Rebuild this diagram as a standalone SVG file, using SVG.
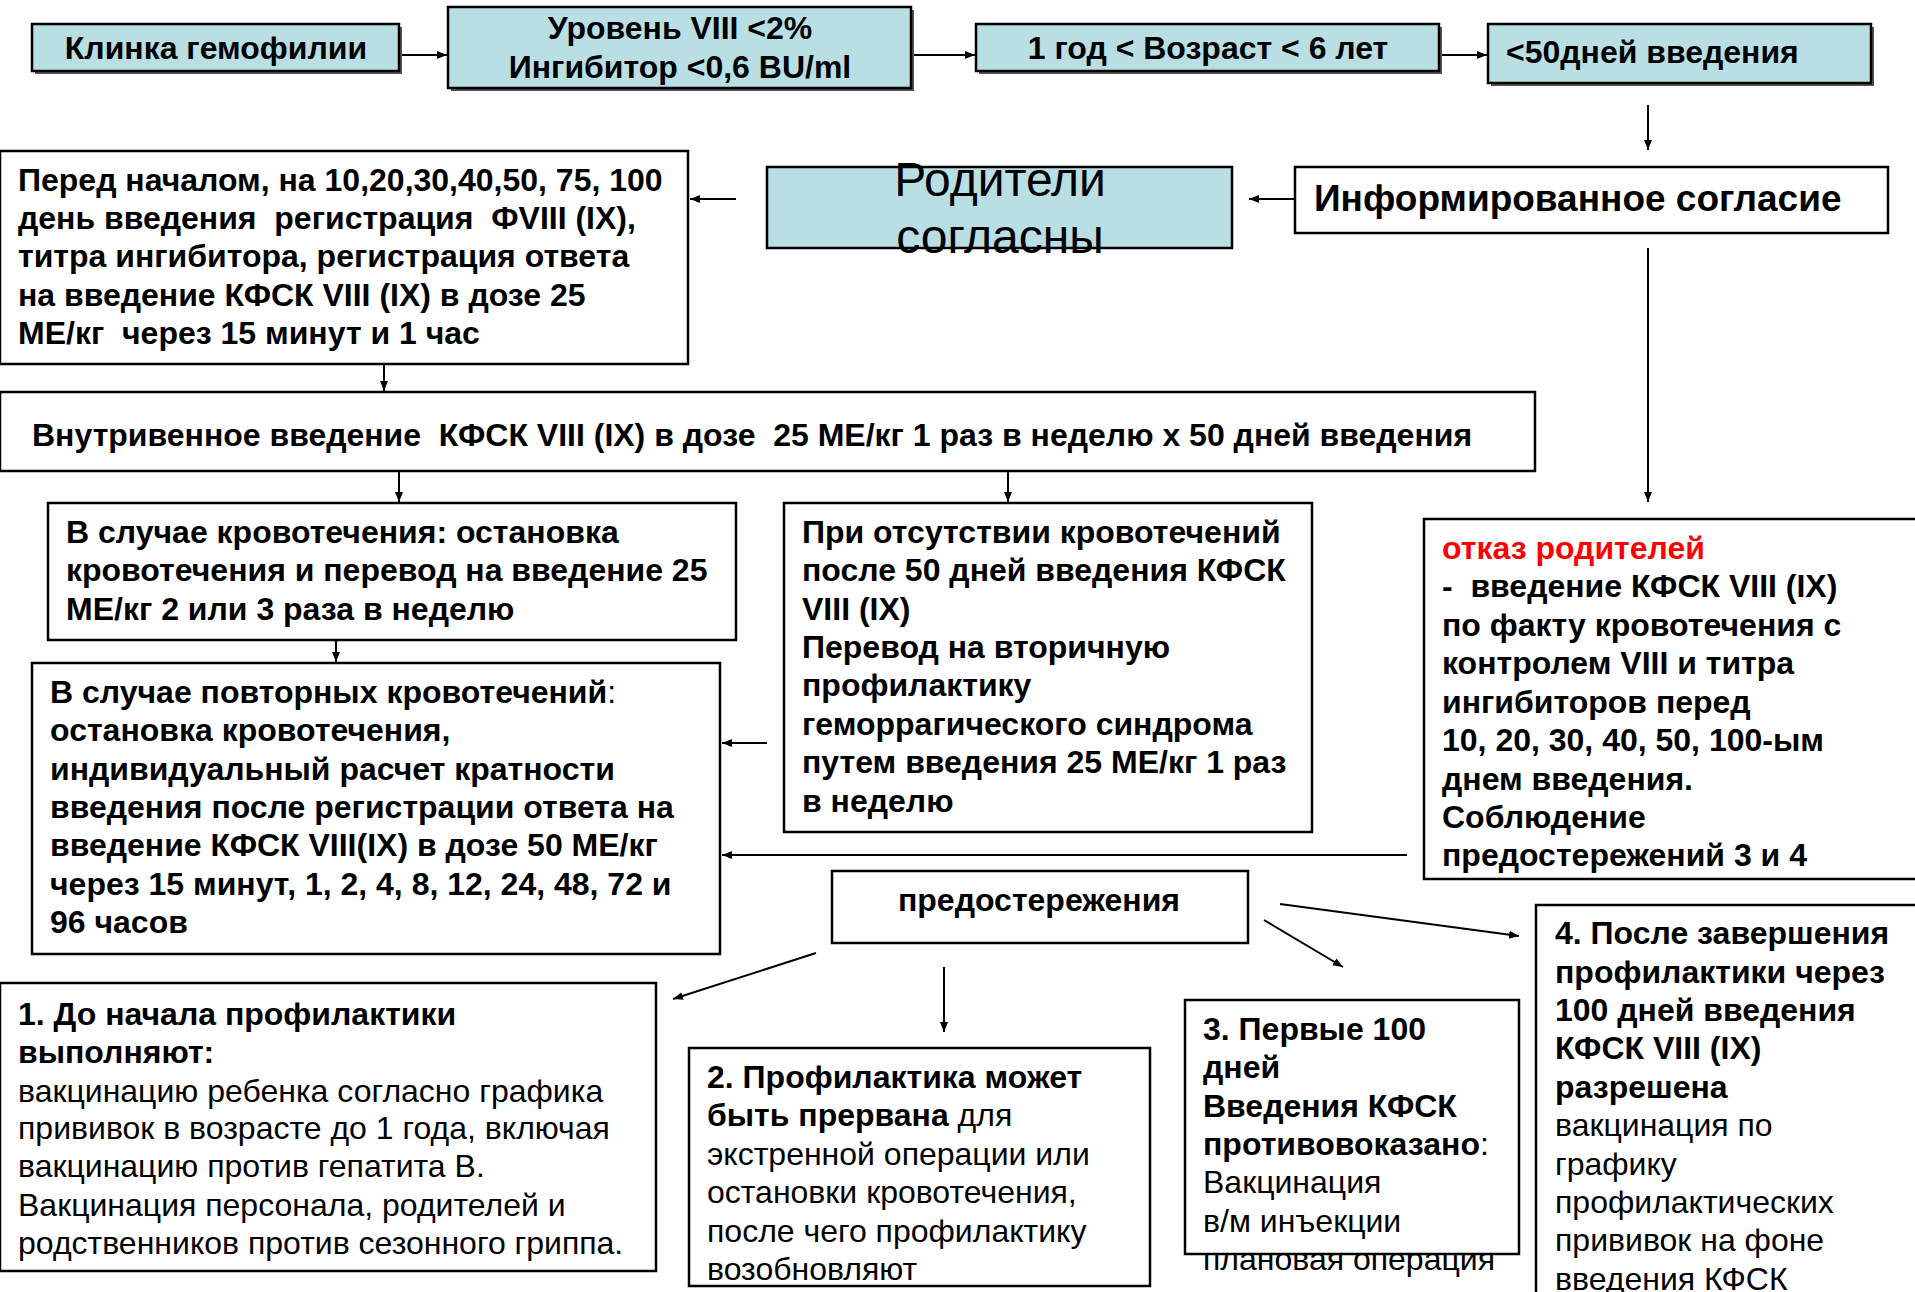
<svg xmlns="http://www.w3.org/2000/svg" width="1915" height="1292" viewBox="0 0 1915 1292">
<style>
.box{fill:#fff;stroke:#000;stroke-width:2.5}
.blue{fill:#b9dfe4;stroke:#000;stroke-width:2.5}
.shd{fill:#555}
.n{font-family:"Liberation Sans",Arial,sans-serif;font-size:32px;fill:#000;white-space:pre}
.b{font-weight:bold}
.w{font-family:"Liberation Sans",Arial,sans-serif;font-size:32px;font-weight:bold;fill:#000;white-space:pre}
.red{fill:#ff0000}
.c{text-anchor:middle}
.ln{stroke:#000;stroke-width:2;fill:none}
</style>
<defs>
<marker id="ah" viewBox="0 0 10 10" refX="10" refY="5" markerWidth="10" markerHeight="10" markerUnits="userSpaceOnUse" orient="auto">
<path d="M0,1 L10,5 L0,9 z" fill="#000"/>
</marker>
</defs>
<g id="connectors">
<line class="ln" x1="400" y1="55" x2="447" y2="55" marker-end="url(#ah)"/>
<line class="ln" x1="912" y1="55" x2="975" y2="55" marker-end="url(#ah)"/>
<line class="ln" x1="1440" y1="55" x2="1487" y2="55" marker-end="url(#ah)"/>
<line class="ln" x1="1648" y1="105" x2="1648" y2="150" marker-end="url(#ah)"/>
<line class="ln" x1="1295" y1="199" x2="1249" y2="199" marker-end="url(#ah)"/>
<line class="ln" x1="736" y1="199" x2="690" y2="199" marker-end="url(#ah)"/>
<line class="ln" x1="384" y1="365" x2="384" y2="391" marker-end="url(#ah)"/>
<line class="ln" x1="399" y1="472" x2="399" y2="502" marker-end="url(#ah)"/>
<line class="ln" x1="1008" y1="472" x2="1008" y2="502" marker-end="url(#ah)"/>
<line class="ln" x1="1648" y1="248" x2="1648" y2="502" marker-end="url(#ah)"/>
<line class="ln" x1="336" y1="641" x2="336" y2="662" marker-end="url(#ah)"/>
<line class="ln" x1="767" y1="743" x2="722" y2="743" marker-end="url(#ah)"/>
<line class="ln" x1="1407" y1="855" x2="722" y2="855" marker-end="url(#ah)"/>
<line class="ln" x1="816" y1="953" x2="673" y2="999" marker-end="url(#ah)"/>
<line class="ln" x1="944" y1="967" x2="944" y2="1032" marker-end="url(#ah)"/>
<line class="ln" x1="1264" y1="920" x2="1343" y2="967" marker-end="url(#ah)"/>
<line class="ln" x1="1280" y1="904" x2="1519" y2="936" marker-end="url(#ah)"/>
</g>
<g id="n1">
<rect class="shd" x="35" y="27" width="367" height="47"/>
<rect class="blue" x="32" y="24" width="367" height="47"/>
<text class="n b c" x="216" y="59">Клинка гемофилии</text>
</g>
<g id="n2">
<rect class="shd" x="451" y="10" width="463" height="81"/>
<rect class="blue" x="448" y="7" width="463" height="81"/>
<text class="n b c" x="680" y="39">Уровень VIII &lt;2%</text>
<text class="n b c" x="680" y="78">Ингибитор &lt;0,6 BU/ml</text>
</g>
<g id="n3">
<rect class="shd" x="979" y="27" width="463" height="47"/>
<rect class="blue" x="976" y="24" width="463" height="47"/>
<text class="n b c" x="1208" y="59">1 год &lt; Возраст &lt; 6 лет</text>
</g>
<g id="n4">
<rect class="shd" x="1491" y="27" width="383" height="59"/>
<rect class="blue" x="1488" y="24" width="383" height="59"/>
<text class="n b" x="1506" y="63">&lt;50дней введения</text>
</g>
<g id="n5">
<rect class="box" x="1295" y="167" width="593" height="66"/>
<text class="n b" x="1314" y="211" style="font-size:37px">Информированное согласие</text>
</g>
<g id="n6">
<rect class="blue" x="767" y="167" width="465" height="81"/>
<text class="n c" x="1000" y="196" style="font-size:48px">Родители</text>
<text class="n c" x="1000" y="253" style="font-size:48px">согласны</text>
</g>
<g id="n7">
<rect class="box" x="0" y="151" width="688" height="213"/>
<text class="n b" x="18" y="191">Перед началом, на 10,20,30,40,50, 75, 100</text>
<text class="n b" x="18" y="229">день введения  регистрация  ФVIII (IX),</text>
<text class="n b" x="18" y="267">титра ингибитора, регистрация ответа</text>
<text class="n b" x="18" y="306">на введение КФСК VIII (IX) в дозе 25</text>
<text class="n b" x="18" y="344">МЕ/кг  через 15 минут и 1 час</text>
</g>
<g id="n8">
<rect class="box" x="0" y="392" width="1535" height="79"/>
<text class="n b" x="32" y="446">Внутривенное введение  КФСК VIII (IX) в дозе  25 МЕ/кг 1 раз в неделю х 50 дней введения</text>
</g>
<g id="n9">
<rect class="box" x="48" y="503" width="688" height="137"/>
<text class="n b" x="66" y="543">В случае кровотечения: остановка</text>
<text class="n b" x="66" y="581">кровотечения и перевод на введение 25</text>
<text class="n b" x="66" y="620">МЕ/кг 2 или 3 раза в неделю</text>
</g>
<g id="n10">
<rect class="box" x="32" y="663" width="688" height="291"/>
<text class="n b" x="50" y="703">В случае повторных кровотечений<tspan font-weight="normal">:</tspan></text>
<text class="n b" x="50" y="741">остановка кровотечения,</text>
<text class="n b" x="50" y="780">индивидуальный расчет кратности</text>
<text class="n b" x="50" y="818">введения после регистрации ответа на</text>
<text class="n b" x="50" y="856">введение КФСК VIII(IX) в дозе 50 МЕ/кг</text>
<text class="n b" x="50" y="895">через 15 минут, 1, 2, 4, 8, 12, 24, 48, 72 и</text>
<text class="n b" x="50" y="933">96 часов</text>
</g>
<g id="n11">
<rect class="box" x="784" y="503" width="528" height="329"/>
<text class="n b" x="802" y="543">При отсутствии кровотечений</text>
<text class="n b" x="802" y="581">после 50 дней введения КФСК</text>
<text class="n b" x="802" y="620">VIII (IX)</text>
<text class="n b" x="802" y="658">Перевод на вторичную</text>
<text class="n b" x="802" y="696">профилактику</text>
<text class="n b" x="802" y="735">геморрагического синдрома</text>
<text class="n b" x="802" y="773">путем введения 25 МЕ/кг 1 раз</text>
<text class="n b" x="802" y="812">в неделю</text>
</g>
<g id="n12">
<rect class="box" x="1424" y="519" width="500" height="360"/>
<text class="w red" x="1442" y="559">отказ родителей</text>
<text class="w" x="1442" y="597">-  введение КФСК VIII (IX)</text>
<text class="w" x="1442" y="636">по факту кровотечения с</text>
<text class="w" x="1442" y="674">контролем VIII и титра</text>
<text class="w" x="1442" y="713">ингибиторов перед</text>
<text class="w" x="1442" y="751">10, 20, 30, 40, 50, 100-ым</text>
<text class="w" x="1442" y="790">днем введения.</text>
<text class="w" x="1442" y="828">Соблюдение</text>
<text class="w" x="1442" y="866">предостережений 3 и 4</text>
</g>
<g id="n13">
<rect class="box" x="832" y="871" width="416" height="72"/>
<text class="n b c" x="1039" y="911">предостережения</text>
</g>
<g id="n14">
<rect class="box" x="0" y="983" width="656" height="288"/>
<text class="n b" x="18" y="1025">1. До начала профилактики</text>
<text class="n b" x="18" y="1063">выполняют:</text>
<text class="n" x="18" y="1102">вакцинацию ребенка согласно графика</text>
<text class="n" x="18" y="1139">прививок в возрасте до 1 года, включая</text>
<text class="n" x="18" y="1177">вакцинацию против гепатита В.</text>
<text class="n" x="18" y="1216">Вакцинация персонала, родителей и</text>
<text class="n" x="18" y="1254">родственников против сезонного гриппа.</text>
</g>
<g id="n15">
<rect class="box" x="689" y="1048" width="461" height="238"/>
<text class="n b" x="707" y="1088">2. Профилактика может</text>
<text class="n b" x="707" y="1126">быть прервана<tspan font-weight="normal"> для</tspan></text>
<text class="n" x="707" y="1165">экстренной операции или</text>
<text class="n" x="707" y="1203">остановки кровотечения,</text>
<text class="n" x="707" y="1242">после чего профилактику</text>
<text class="n" x="707" y="1280">возобновляют</text>
</g>
<g id="n16">
<rect class="box" x="1185" y="1000" width="334" height="254"/>
<text class="n b" x="1203" y="1040">3. Первые 100</text>
<text class="n b" x="1203" y="1078">дней</text>
<text class="n b" x="1203" y="1117">Введения КФСК</text>
<text class="n b" x="1203" y="1155">противовоказано<tspan font-weight="normal">:</tspan></text>
<text class="n" x="1203" y="1193">Вакцинация</text>
<text class="n" x="1203" y="1232">в/м инъекции</text>
<text class="n" x="1203" y="1270">плановая операция</text>
</g>
<g id="n17">
<rect class="box" x="1536" y="905" width="400" height="400"/>
<text class="n b" x="1555" y="944">4. После завершения</text>
<text class="n b" x="1555" y="983">профилактики через</text>
<text class="n b" x="1555" y="1021">100 дней введения</text>
<text class="n b" x="1555" y="1059">КФСК VIII (IX)</text>
<text class="n b" x="1555" y="1098">разрешена</text>
<text class="n" x="1555" y="1136">вакцинация по</text>
<text class="n" x="1555" y="1175">графику</text>
<text class="n" x="1555" y="1213">профилактических</text>
<text class="n" x="1555" y="1251">прививок на фоне</text>
<text class="n" x="1555" y="1290">введения КФСК</text>
</g>
</svg>
